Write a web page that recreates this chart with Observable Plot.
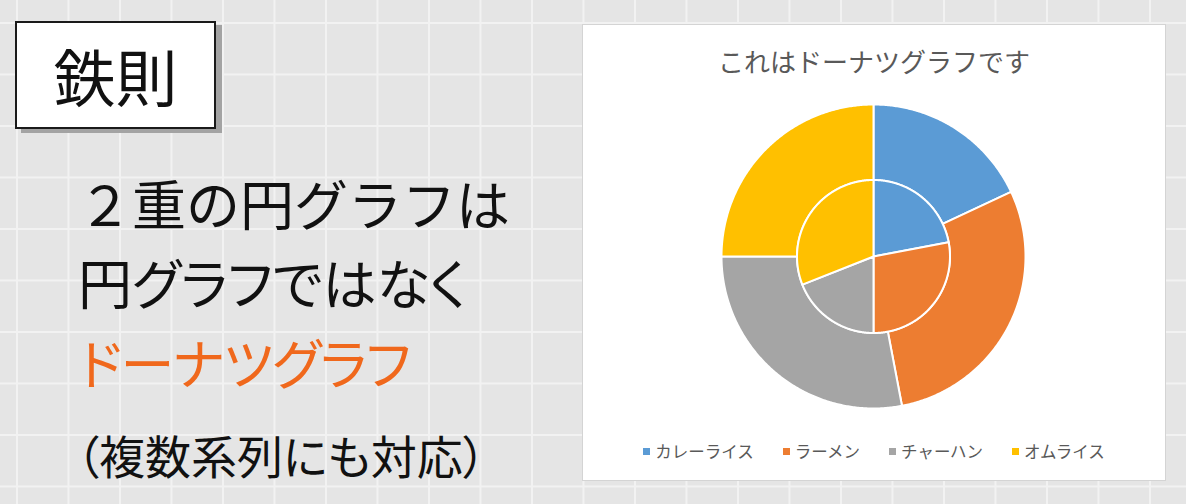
<!DOCTYPE html>
<html lang="ja">
<head>
<meta charset="utf-8">
<script src="https://cdn.jsdelivr.net/npm/d3@7"></script>
<script src="https://cdn.jsdelivr.net/npm/@observablehq/plot@0.6"></script>
<style>
  html, body { margin: 0; padding: 0; }
  body {
    width: 1186px; height: 504px; overflow: hidden; position: relative;
    background-color: #e5e5e5;
    background-image:
      linear-gradient(to right, #f2f2f2 1.5px, transparent 1.5px),
      linear-gradient(to bottom, #f2f2f2 1.5px, transparent 1.5px);
    background-size: 51.5px 51.5px;
    background-position: 16px 22px;
    font-family: "Noto Sans CJK JP", "Noto Sans", sans-serif;
  }
  .abs { position: absolute; white-space: nowrap; line-height: 1; }
  #rule {
    left: 15px; top: 21px; width: 197px; height: 104px;
    background: #fff; border: 2px solid #1a1a1a;
    box-shadow: 6px 4px 0 #a3a3a3;
    display: flex; align-items: center; justify-content: center;
    font-size: 62px; color: #111;
  }
  .big { font-size: 54px; color: #111; font-feature-settings: "palt"; }
  #l1 { left: 78px; top: 176px; font-feature-settings: normal; }
  #l2 { left: 78px; top: 255px; }
  #l3 { left: 79px; top: 335px; color: #F0681C; letter-spacing: -1px; }
  #l4 { left: 76px; top: 431px; font-size: 46px; }
  #panel {
    left: 582px; top: 24px; width: 582px; height: 455px;
    background: #fff; border: 1px solid #d4d4d4;
  }
  #title {
    left: 0; width: 582px; top: 23px; text-align: center;
    font-size: 26px; color: #595959;
  }
  #chart { position: absolute; left: 713px; top: 96px; }
  #legend {
    left: 0; width: 582px; top: 418px;
    display: flex; justify-content: center; gap: 29px;
    font-size: 16.5px; color: #595959;
  }
  .item { display: flex; align-items: center; }
  .sw { width: 7px; height: 7px; margin-right: 5px; }
</style>
</head>
<body>
<div id="rule" class="abs">鉄則</div>
<div id="l1" class="abs big">２重の円グラフは</div>
<div id="l2" class="abs big">円グラフではなく</div>
<div id="l3" class="abs big">ドーナツグラフ</div>
<div id="l4" class="abs big">（複数系列にも対応）</div>
<div id="panel" class="abs">
  <div id="title" class="abs">これはドーナツグラフです</div>
  <div id="legend" class="abs"></div>
</div>
<div id="chart"></div>
<script>
// ---- data ----
const categories = ["カレーライス", "ラーメン", "チャーハン", "オムライス"];
const innerValues = [22, 28, 19, 31];   // inner series
const outerValues = [18, 29, 28, 25];   // outer series
const colors = ["#5B9BD5", "#ED7D31", "#A5A5A5", "#FFC000"];

// ---- geometry (ring radii in plot units) ----
const midR = 0.478, outerR = 0.95;
const pie = d3.pie().sort(null).value(d => d);

function ringPoints(values, r0, r1, ring) {
  const pts = [];
  pie(values).forEach((a, i) => {
    const id = ring + "-" + i, cat = categories[i];
    const n = Math.max(2, Math.ceil((a.endAngle - a.startAngle) / (Math.PI / 360)));
    const arc = r => d3.range(n + 1).map(k => {
      const t = a.startAngle + (a.endAngle - a.startAngle) * k / n;
      return {x: r * Math.sin(t), y: r * Math.cos(t), id, cat};
    });
    if (r0 === 0) {
      pts.push({x: 0, y: 0, id, cat}, ...arc(r1));
    } else {
      pts.push(...arc(r1), ...arc(r0).reverse());
    }
  });
  return pts;
}

const points = [
  ...ringPoints(outerValues, midR, outerR, "outer"),
  ...ringPoints(innerValues, 0, midR, "inner")
];

const plot = Plot.plot({
  width: 320, height: 320,
  margin: 0,
  x: {domain: [-1, 1], axis: null},
  y: {domain: [-1, 1], axis: null},
  color: {domain: categories, range: colors},
  style: {background: "transparent", overflow: "visible"},
  marks: [
    Plot.line(points, {
      x: "x", y: "y", z: "id", fill: "cat",
      stroke: "white", strokeWidth: 2, strokeLinejoin: "round",
      curve: "linear-closed"
    })
  ]
});
document.getElementById("chart").appendChild(plot);

// ---- legend ----
const legend = document.getElementById("legend");
categories.forEach((c, i) => {
  const item = document.createElement("div");
  item.className = "item";
  const sw = document.createElement("span");
  sw.className = "sw";
  sw.style.background = colors[i];
  const lab = document.createElement("span");
  lab.textContent = c;
  item.appendChild(sw); item.appendChild(lab);
  legend.appendChild(item);
});
</script>
</body>
</html>
